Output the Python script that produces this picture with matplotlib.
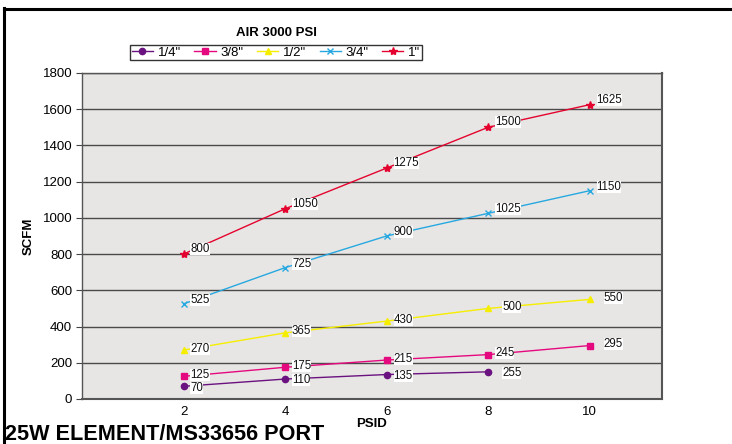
import matplotlib
matplotlib.use("Agg")
import matplotlib.pyplot as plt
from matplotlib.lines import Line2D

plt.rcParams['font.family'] = ['Liberation Sans', 'DejaVu Sans']

psid = [2, 4, 6, 8, 10]
s_quarter = [70, 110, 135, 150]
s_quarter_labels = ["70", "110", "135", "255"]
s_3_8 = [125, 175, 215, 245, 295]
s_half = [270, 365, 430, 500, 550]
s_3_4 = [525, 725, 900, 1025, 1150]
s_one = [800, 1050, 1275, 1500, 1625]
series_names = ['1/4"', '3/8"', '1/2"', '3/4"', '1"']
yticks = [0, 200, 400, 600, 800, 1000, 1200, 1400, 1600, 1800]

fig = plt.figure(figsize=(7.32, 4.44), dpi=100)
ax = fig.add_axes([0.112, 0.1014, 0.792, 0.7342])
ax.set_facecolor('#e8e6e4')

styles = [
    dict(color='#6a1280', marker='o', ms=4.5),
    dict(color='#e5097f', marker='s', ms=4.5),
    dict(color='#f6ee00', marker='^', ms=5),
    dict(color='#27a8e0', marker='x', ms=4.5, mew=1),
    dict(color='#e4032e', marker='*', ms=6),
]
label_dy = [-1, 1, 1, 3, 3.5]
all_series = [s_quarter, s_3_8, s_half, s_3_4, s_one]
handles = []
for i, (name, vals, st) in enumerate(zip(series_names, all_series, styles)):
    xs = psid[:len(vals)]
    h, = ax.plot(xs, vals, lw=1, label=name, zorder=3, **st)
    handles.append(h)
    labels = s_quarter_labels if vals is s_quarter else [str(v) for v in vals]
    for x, v, lab in zip(xs, vals, labels):
        dx = 10 if lab in ("255", "295", "550", "500") else 5
        ax.annotate(lab, (x, v), xytext=(dx, label_dy[i]), textcoords='offset points',
                    ha='left', va='center', fontsize=8.3, color='#111111', zorder=10 - i,
                    bbox=dict(boxstyle='square,pad=0.0', fc='white', ec='none'))

ax.set_xlim(0, 11.42)
ax.set_ylim(0, 1800)
ax.set_yticks(yticks)
ax.set_xticks(psid)
ax.tick_params(axis='x', length=0, pad=5, labelsize=9.5)
ax.tick_params(axis='y', length=4, width=0.8, color='#444444', pad=3, labelsize=9.5)
ax.yaxis.grid(True, color='#4a4a4a', lw=1)
ax.set_axisbelow(True)
for sp in ax.spines.values():
    sp.set_color('#555555')
    sp.set_linewidth(1)
ax.spines['bottom'].set_linewidth(1.5)
ax.spines['right'].set_linewidth(1.5)

ax.set_ylabel('SCFM', fontsize=9.5, fontweight='bold', labelpad=6)
ax.set_xlabel('PSID', fontsize=9.5, fontweight='bold', labelpad=0)

fig.text(0.377, 0.926, 'AIR 3000 PSI', ha='center', va='center', fontsize=9.5, fontweight='bold')
leg = fig.legend(handles=handles, loc='center', bbox_to_anchor=(0.377, 0.882), ncol=5,
                 frameon=True, fontsize=9.5, handlelength=1.6, handletextpad=0.35,
                 columnspacing=1.05, borderpad=0.1, borderaxespad=0, fancybox=False)
leg.get_frame().set_edgecolor('black')
leg.get_frame().set_linewidth(1)

fig.text(0.007, 0.009, '25W ELEMENT/MS33656 PORT', ha='left', va='baseline',
         fontsize=15.6, fontweight='bold')

fig.add_artist(Line2D([0.005, 1.0], [0.980, 0.980], color='black', lw=2.2, transform=fig.transFigure))
fig.add_artist(Line2D([0.006, 0.006], [0.0, 0.981], color='black', lw=2.2, transform=fig.transFigure))

fig.savefig('out.png', dpi=100)
